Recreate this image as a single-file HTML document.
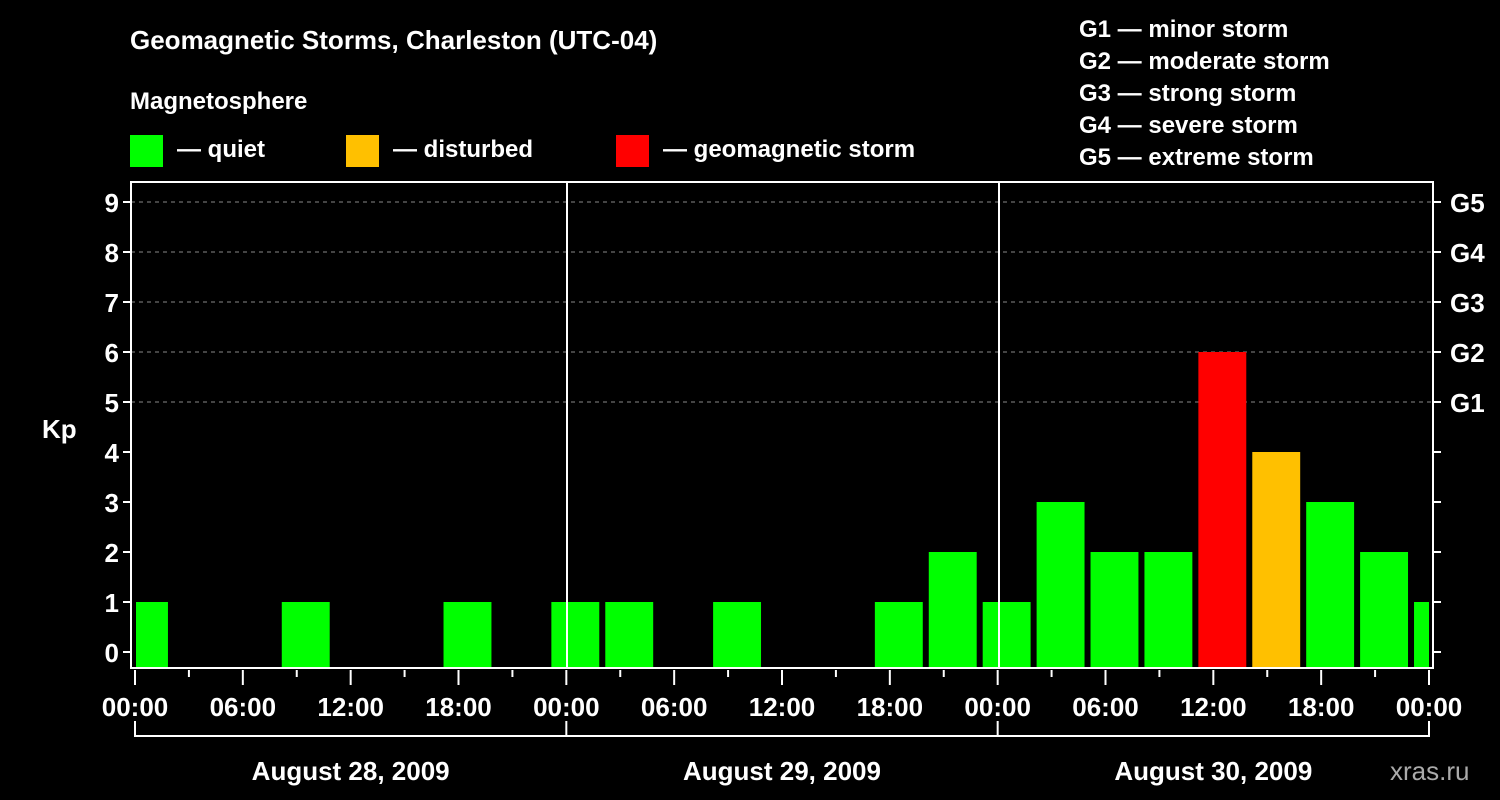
<!DOCTYPE html>
<html><head><meta charset="utf-8"><style>
html,body{margin:0;padding:0;background:#000;}
svg{display:block;font-family:"Liberation Sans",Arial,sans-serif;font-weight:bold;}
</style></head><body>
<svg id="chart" width="1500" height="800" viewBox="0 0 1500 800">
<rect width="1500" height="800" fill="#000"/>
<text x="130" y="49" fill="#fff" font-size="26">Geomagnetic Storms, Charleston (UTC-04)</text>
<text x="130" y="109" fill="#fff" font-size="24">Magnetosphere</text>
<g><rect x="130" y="135" width="33" height="32" fill="#00ff00"/><text x="177" y="157" fill="#fff" font-size="24">— quiet</text></g>
<g><rect x="346" y="135" width="33" height="32" fill="#ffc000"/><text x="393" y="157" fill="#fff" font-size="24">— disturbed</text></g>
<g><rect x="616" y="135" width="33" height="32" fill="#ff0000"/><text x="663" y="157" fill="#fff" font-size="24">— geomagnetic storm</text></g>
<g fill="#fff" font-size="24">
<text x="1079" y="37">G1 — minor storm</text>
<text x="1079" y="69">G2 — moderate storm</text>
<text x="1079" y="101">G3 — strong storm</text>
<text x="1079" y="133">G4 — severe storm</text>
<text x="1079" y="165">G5 — extreme storm</text>
</g>
<g id="grid"></g>
<g id="bars"></g>
<g id="axes"></g>
<text x="42" y="438" fill="#fff" font-size="26">Kp</text>
<text x="1390" y="780" fill="#aaa" font-size="26" font-weight="normal">xras.ru</text>
</svg>
<script>
const kpValues=[1,0,0,1,0,0,1,0,1,1,0,1,0,0,1,2,1,3,2,2,6,4,3,2,1];
const binStartHours=[-1,2,5,8,11,14,17,20,23,26,29,32,35,38,41,44,47,50,53,56,59,62,65,68,71];
const yTicks=[0,1,2,3,4,5,6,7,8,9];
const gLabels=["G1","G2","G3","G4","G5"];
const gLevels=[5,6,7,8,9];
const xTickLabels=["00:00","06:00","12:00","18:00","00:00","06:00","12:00","18:00","00:00","06:00","12:00","18:00","00:00"];
const dayLabels=["August 28, 2009","August 29, 2009","August 30, 2009"];
const NS="http://www.w3.org/2000/svg";
const x0=135,pxH=(1429-135)/72,y0=652,pxK=50,L=131,R=1433,T=182,B=668;
const xs=h=>x0+h*pxH, ys=k=>y0-k*pxK;
function mk(p,t,a){const e=document.createElementNS(NS,t);for(const k in a)e.setAttribute(k,a[k]);p.appendChild(e);return e;}
const grid=document.getElementById('grid'),bars=document.getElementById('bars'),axes=document.getElementById('axes');
gLevels.forEach((k,i)=>{
 const l=mk(grid,'line',{x1:L,x2:R,y1:ys(k),y2:ys(k),stroke:'#888','stroke-dasharray':'4,4','stroke-width':1});
 
 
 const t=mk(axes,'text',{x:1450,y:ys(k)+10,fill:'#fff','font-size':26});t.textContent=gLabels[i];
 
 
});
kpValues.forEach((v,i)=>{
 if(v<=0)return;
 let a=Math.max(xs(binStartHours[i])+3,x0+1),b=Math.min(xs(binStartHours[i]+3)-3,R-4);
 const c=v>=5?'#ff0000':v>=4?'#ffc000':'#00ff00';
 const r=mk(bars,'rect',{x:a,y:ys(v),width:b-a,height:B-ys(v),fill:c});
 
 
});
// frame
mk(axes,'rect',{x:L,y:T,width:R-L,height:B-T,fill:'none',stroke:'#fff','stroke-width':2});
[567,999].forEach(x=>{const l=mk(axes,'line',{x1:x,x2:x,y1:T,y2:B,stroke:'#fff','stroke-width':2});});
yTicks.forEach(k=>{
 mk(axes,'line',{x1:L-8,x2:L,y1:ys(k),y2:ys(k),stroke:'#fff','stroke-width':2});
 mk(axes,'line',{x1:R,x2:R+8,y1:ys(k),y2:ys(k),stroke:'#fff','stroke-width':2});
 const t=mk(axes,'text',{x:L-12,y:ys(k)+10,fill:'#fff','font-size':26,'text-anchor':'end'});t.textContent=k;
 
 
});
for(let h=0;h<=72;h+=3){
 const maj=h%6===0;
 mk(axes,'line',{x1:xs(h),x2:xs(h),y1:B+2,y2:B+(maj?17:9),stroke:'#fff','stroke-width':2});
}
xTickLabels.forEach((s,i)=>{
 const t=mk(axes,'text',{x:xs(i*6),y:716,fill:'#fff','font-size':26,'text-anchor':'middle'});t.textContent=s;
 
 
});
mk(axes,'line',{x1:x0,x2:1429,y1:736,y2:736,stroke:'#fff','stroke-width':2});
for(let d=0;d<=3;d++)mk(axes,'line',{x1:xs(d*24),x2:xs(d*24),y1:721,y2:737,stroke:'#fff','stroke-width':2});
dayLabels.forEach((s,i)=>{
 const t=mk(axes,'text',{x:xs(i*24+12),y:780,fill:'#fff','font-size':26,'text-anchor':'middle'});t.textContent=s;
 
 
});
</script>
</body></html>
